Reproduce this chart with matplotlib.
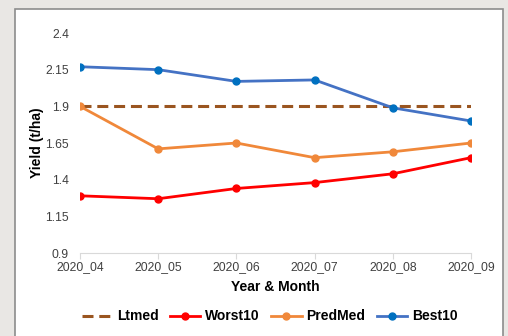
import matplotlib
matplotlib.use("Agg")
import matplotlib.pyplot as plt
from matplotlib.patches import Rectangle

plt.rcParams['font.family'] = ['Liberation Sans', 'DejaVu Sans']

months = ["2020_04", "2020_05", "2020_06", "2020_07", "2020_08", "2020_09"]
ltmed = [1.9, 1.9, 1.9, 1.9, 1.9, 1.9]
worst10 = [1.29, 1.27, 1.34, 1.38, 1.44, 1.55]
predmed = [1.9, 1.61, 1.65, 1.55, 1.59, 1.65]
best10 = [2.17, 2.15, 2.07, 2.08, 1.89, 1.80]
yticks = [0.9, 1.15, 1.4, 1.65, 1.9, 2.15, 2.4]

fig = plt.figure(figsize=(5.08, 3.36), dpi=100)
fig.patch.set_facecolor('#E9E7E4')
# white panel with grey frame
fig.patches.append(Rectangle((15 / 508, -0.05), 488 / 508, 1 - 9 / 336 + 0.05,
                             transform=fig.transFigure, facecolor='white',
                             edgecolor='#8C8C8C', linewidth=1.2, zorder=-10))

ax = fig.add_axes([80 / 508, 1 - 253 / 336, 391 / 508, 220 / 336])
ax.set_facecolor('none')
x = range(len(months))

ax.plot(x, ltmed, color='#9A5520', linestyle=(0, (3.6, 1.9)), linewidth=2.2, label='Ltmed')
ax.plot(x, worst10, color='#FF0000', marker='o', markersize=5, linewidth=2, label='Worst10')
ax.plot(x, predmed, color='#F0883A', marker='o', markersize=5, linewidth=2, label='PredMed')
ax.plot(x, best10, color='#4472C4', marker='o', markersize=5, linewidth=2,
        markerfacecolor='#0070C0', markeredgecolor='#0070C0', label='Best10')

ax.set_xlim(0, len(months) - 1)
ax.set_ylim(0.9, 2.4)
ax.set_xticks(list(x))
ax.set_xticklabels(months, fontsize=8.7, color='#404040')
ax.set_yticks(yticks)
ax.set_yticklabels([f"{v:g}" for v in yticks], fontsize=8.7, color='#404040')

for s in ['top', 'right', 'left']:
    ax.spines[s].set_visible(False)
ax.spines['bottom'].set_color('#D9D9D9')
ax.tick_params(axis='y', length=0, pad=8)
ax.tick_params(axis='x', length=4, color='#D9D9D9', pad=2)

ax.set_ylabel('Yield (t/ha)', fontsize=10, fontweight='bold', labelpad=1)
ax.set_xlabel('Year & Month', fontsize=10, fontweight='bold', labelpad=5)

ax.legend(loc='upper center', bbox_to_anchor=(0.485, -0.2), ncol=4, frameon=False,
          prop={'weight': 'bold', 'size': 10}, handlelength=2.2, columnspacing=0.8,
          handletextpad=0.35)

fig.savefig('out.png', dpi=100)
